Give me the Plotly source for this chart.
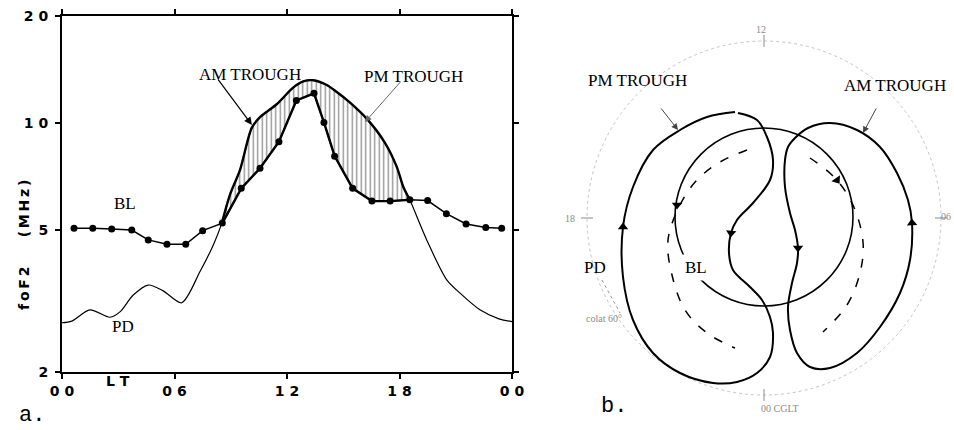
import math
import plotly.graph_objects as go

W, H = 954, 430

# ---------------- Panel a data ----------------
bl_hour = [0.64, 1.64, 2.65, 3.72, 4.6, 5.6, 6.6, 7.5, 8.55, 9.56, 10.56, 11.57,
           12.5, 13.44, 13.97, 14.54, 15.5, 16.53, 17.5, 18.55, 19.5, 20.5, 21.55, 22.6, 23.45]
bl_fof2 = [5.07, 5.07, 5.04, 5.01, 4.70, 4.57, 4.57, 4.99, 5.24, 6.56, 7.47, 8.87,
           11.58, 12.13, 10.05, 8.08, 6.56, 6.04, 6.04, 6.09, 6.06, 5.57, 5.21, 5.09, 5.07]

pd_hour = [0.0, 0.52, 1.49, 2.56, 3.09, 3.80, 4.60, 5.40, 6.38, 7.36, 8.07, 8.52, 8.96,
           9.49, 10.12, 10.56, 11.45, 12.34, 12.87, 13.4, 14.12, 14.6, 15.3, 16.25, 17.2,
           17.85, 18.2, 18.55, 19.45, 20.52, 21.23, 22.29, 23.3, 24.0]
pd_fof2 = [2.75, 2.78, 2.99, 2.85, 2.95, 3.29, 3.51, 3.38, 3.13, 3.83, 4.55, 5.23, 6.3,
           7.38, 9.7, 10.4, 11.3, 12.6, 13.1, 13.2, 12.8, 12.3, 11.5, 10.3, 8.85,
           7.55, 6.63, 6.09, 4.70, 3.63, 3.33, 2.99, 2.82, 2.77]

trough_start, trough_end = 8.52, 18.55

x_tickvals = [0, 6, 12, 18, 24]
x_ticktext = ["0 0", "0 6", "1 2", "1 8", "0 0"]
y_tickvals = [2, 5, 10, 20]
y_ticktext = ["2", "5", "1 0", "2 0"]

# ---------------- Panel b data (schematic, polar-diagram units) ----------------
left_kidney_u = [-29, -57, -84, -111, -131, -141, -141, -131, -111, -84, -51, -27, -7, 6, 9,
                 6, -2, -14, -31, -35, -33, -27, -11, 6, 9, 3, -7, -26]
left_kidney_v = [106, 101, 88, 68, 31, -9, -59, -102, -135, -155, -165, -164, -155, -139, -115,
                 -99, -82, -69, -52, -35, -15, -2, 15, 38, 58, 81, 98, 105]
right_kidney_u = [31, 44, 66, 93, 116, 133, 144, 148, 146, 136, 116, 93, 66, 46, 33, 26, 24,
                  28, 33, 34, 31, 26, 21, 21, 24, 31]
right_kidney_v = [80, 90, 95, 88, 71, 45, 18, -5, -42, -75, -109, -135, -150, -149, -135, -112,
                  -89, -65, -45, -30, -12, 5, 31, 58, 71, 80]
left_dash_u = [-17, -44, -67, -84, -96, -92, -79, -57, -29]
left_dash_v = [68, 56, 38, 13, -22, -57, -92, -115, -130]
right_dash_u = [46, 71, 89, 99, 96, 83, 59]
right_dash_v = [60, 40, 13, -24, -55, -87, -114]
pd_leader_u = [-162, -144]
pd_leader_v = [-62, -95]
arrow_u = [-141, -33, 148, 34, -87, 73]
arrow_v = [-9, -15, -5, -30, 13, 38]
arrow_angle = [0, 185, -3, 180, 180, 145]
bl_circle = dict(cu=0, cv=1, r=89)
outer_r = 177

fig = go.Figure()

# ---- panel a traces ----
pd_in = [(h, v) for h, v in zip(pd_hour, pd_fof2) if trough_start <= h <= trough_end]
bl_in = [(h, v) for h, v in zip(bl_hour, bl_fof2) if trough_start <= h <= trough_end]
poly_x = [h for h, _ in pd_in] + [h for h, _ in reversed(bl_in)]
poly_y = [v for _, v in pd_in] + [v for _, v in reversed(bl_in)]

fig.add_trace(go.Scatter(
    x=poly_x, y=poly_y, mode="lines", fill="toself", line=dict(width=0, color="black"),
    fillcolor="white",
    fillpattern=dict(shape="|", size=4.5, solidity=0.3, fgcolor="#222222", bgcolor="white"),
    hoverinfo="skip", xaxis="x", yaxis="y"))
fig.add_trace(go.Scatter(x=pd_hour, y=pd_fof2, mode="lines",
                         line=dict(color="black", width=1.2, shape="spline", smoothing=0.8),
                         xaxis="x", yaxis="y"))
fig.add_trace(go.Scatter(x=[h for h, _ in pd_in], y=[v for _, v in pd_in], mode="lines",
                         line=dict(color="black", width=2.4, shape="spline", smoothing=0.8),
                         xaxis="x", yaxis="y"))
fig.add_trace(go.Scatter(x=[h for h, _ in bl_in], y=[v for _, v in bl_in], mode="lines",
                         line=dict(color="black", width=2.4), xaxis="x", yaxis="y"))
fig.add_trace(go.Scatter(x=bl_hour, y=bl_fof2, mode="lines+markers",
                         line=dict(color="black", width=1.5),
                         marker=dict(color="black", size=7, symbol="circle"),
                         xaxis="x", yaxis="y"))

# ---- panel b traces ----
line_b = dict(color="black", width=2, shape="spline", smoothing=1.0)
fig.add_trace(go.Scatter(x=left_kidney_u, y=left_kidney_v, mode="lines", line=line_b,
                         xaxis="x2", yaxis="y2"))
fig.add_trace(go.Scatter(x=right_kidney_u, y=right_kidney_v, mode="lines", line=line_b,
                         xaxis="x2", yaxis="y2"))
fig.add_trace(go.Scatter(x=left_dash_u, y=left_dash_v, mode="lines",
                         line=dict(color="black", width=1.5, shape="spline", dash="9px,11px"),
                         xaxis="x2", yaxis="y2"))
fig.add_trace(go.Scatter(x=right_dash_u, y=right_dash_v, mode="lines",
                         line=dict(color="black", width=1.5, shape="spline", dash="9px,11px"),
                         xaxis="x2", yaxis="y2"))
fig.add_trace(go.Scatter(x=pd_leader_u, y=pd_leader_v, mode="lines",
                         line=dict(color="#9a9a9a", width=1, dash="dot"),
                         xaxis="x2", yaxis="y2"))
fig.add_trace(go.Scatter(x=arrow_u, y=arrow_v, mode="markers",
                         marker=dict(symbol="triangle-up", size=9, angle=arrow_angle, color="black"),
                         xaxis="x2", yaxis="y2"))

# outer faint circle ticks (top, left, right, bottom)
tick_u, tick_v = [], []
for ang in (90, 180, 0, 270):
    a = math.radians(ang)
    for dr in (-6, 6):
        tick_u.append((outer_r + dr) * math.cos(a))
        tick_v.append((outer_r + dr) * math.sin(a))
    tick_u.append(None)
    tick_v.append(None)
fig.add_trace(go.Scatter(x=tick_u, y=tick_v, mode="lines", line=dict(color="#8a8a8a", width=1),
                         xaxis="x2", yaxis="y2"))

shapes = [
    dict(type="circle", xref="x2", yref="y2", x0=-outer_r, x1=outer_r, y0=-outer_r, y1=outer_r,
         line=dict(color="#c4c4c4", width=1, dash="dot"), layer="below"),
    dict(type="circle", xref="x2", yref="y2",
         x0=bl_circle["cu"] - bl_circle["r"], x1=bl_circle["cu"] + bl_circle["r"],
         y0=bl_circle["cv"] - bl_circle["r"], y1=bl_circle["cv"] + bl_circle["r"],
         line=dict(color="black", width=1.6)),
]

serif = dict(family="Liberation Serif", size=17, color="black")
bold = dict(family="DejaVu Sans", size=14, color="black", weight="bold")
faint = dict(family="Liberation Serif", size=10, color="#8a8a8a")


def px(xp, yp):
    return dict(x=xp / W, y=1 - yp / H, xref="paper", yref="paper")


lg = math.log10
annotations = [
    # panel a
    dict(text="AM TROUGH", font=serif, showarrow=False, **px(197, 63)),
    dict(text="PM TROUGH", font=serif, showarrow=False, **px(413, 65)),
    dict(text="", x=10.13, y=lg(9.88), ax=8.27, ay=lg(13.39), xref="x", yref="y",
         axref="x", ayref="y", showarrow=True, arrowhead=2, arrowsize=1.3, arrowwidth=1.2,
         arrowcolor="black"),
    dict(text="", x=16.16, y=lg(10.07), ax=18.13, ay=lg(13.2), xref="x", yref="y",
         axref="x", ayref="y", showarrow=True, arrowhead=2, arrowsize=1.3, arrowwidth=1,
         arrowcolor="#666666"),
    dict(text="BL", font=serif, showarrow=False, **px(112, 203)),
    dict(text="PD", font=serif, showarrow=False, **px(110, 338)),
    dict(text="L T", font=bold, showarrow=False, **px(104, 391)),
    dict(text="f\u2009o\u2009F\u20092      (\u2009M\u2009H\u2009z\u2009)", font=bold, textangle=-90,
         showarrow=False, **px(14, 245)),
    dict(text="a.", font=dict(family="Liberation Mono", size=22, color="black"),
         showarrow=False, xanchor="center", yanchor="bottom", **px(32, 430)),
    dict(text="b.", font=dict(family="Liberation Mono", size=22, color="black"),
         showarrow=False, xanchor="center", yanchor="bottom", **px(614, 421)),
    # panel b
    dict(text="PM TROUGH", font=serif, showarrow=False, x=-127, y=138, xref="x2", yref="y2"),
    dict(text="AM TROUGH", font=serif, showarrow=False, x=131, y=133, xref="x2", yref="y2"),
    dict(text="", x=-86, y=88, ax=-104, ay=111, xref="x2", yref="y2", axref="x2", ayref="y2",
         showarrow=True, arrowhead=2, arrowsize=1.3, arrowwidth=1, arrowcolor="#444444"),
    dict(text="", x=99, y=85, ax=113, ay=111, xref="x2", yref="y2", axref="x2", ayref="y2",
         showarrow=True, arrowhead=2, arrowsize=1.3, arrowwidth=1, arrowcolor="#444444"),
    dict(text="PD", font=serif, showarrow=False, x=-169, y=-49, xref="x2", yref="y2"),
    dict(text="BL", font=serif, showarrow=False, x=-68, y=-49, xref="x2", yref="y2",
         bgcolor="white", borderpad=3),
    dict(text="12", font=faint, showarrow=False, x=-3, y=outer_r + 12, xref="x2", yref="y2"),
    dict(text="18", font=faint, showarrow=False, x=-outer_r - 17, y=0, xref="x2", yref="y2"),
    dict(text="06", font=faint, showarrow=False, x=189, y=2, xref="x2", yref="y2",
         xanchor="right"),
    dict(text="00 CGLT", font=faint, showarrow=False, x=16, y=-outer_r - 13, xref="x2", yref="y2"),
    dict(text="colat 60°", font=faint, showarrow=False, x=-160, y=-100, xref="x2", yref="y2"),
]

axis_common = dict(showgrid=False, zeroline=False, showline=True, linecolor="black", linewidth=2,
                   mirror="allticks", ticks="outside", ticklen=5, tickwidth=1.5, tickcolor="black",
                   tickfont=bold, automargin=False)

fig.update_layout(
    width=W, height=H, autosize=False,
    margin=dict(l=0, r=0, t=0, b=0, pad=0, autoexpand=False),
    paper_bgcolor="white", plot_bgcolor="rgba(0,0,0,0)", showlegend=False,
    xaxis=dict(domain=[62 / W, 512 / W], range=[0, 24], tickmode="array",
               tickvals=x_tickvals, ticktext=x_ticktext, anchor="y",
               ticklabelstandoff=0, **axis_common),
    yaxis=dict(domain=[1 - 372 / H, 1 - 16 / H], type="log", range=[lg(2), lg(20)],
               tickmode="array", tickvals=y_tickvals, ticktext=y_ticktext, anchor="x",
               ticklabelstandoff=4, **axis_common),
    xaxis2=dict(domain=[520 / W, 1], range=[-244, 190], visible=False, anchor="y2",
                automargin=False),
    yaxis2=dict(domain=[0, 1], range=[-212, 218], visible=False, anchor="x2",
                automargin=False),
    shapes=shapes, annotations=annotations,
)

fig.write_html("out.html")
